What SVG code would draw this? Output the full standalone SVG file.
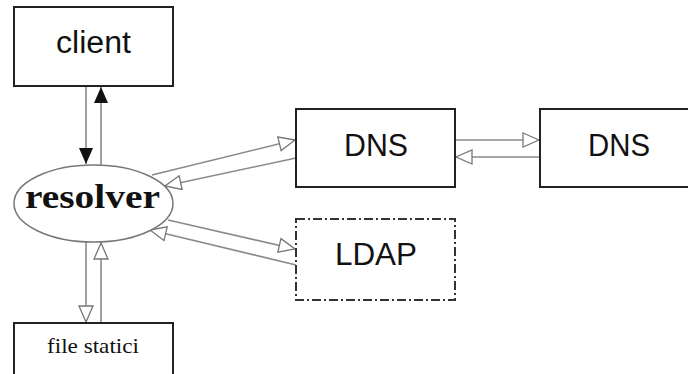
<svg xmlns="http://www.w3.org/2000/svg" width="688" height="374" viewBox="0 0 688 374">
<style>
.box{fill:#fff;stroke:#222;stroke-width:2}
.dash{fill:#fff;stroke:#333;stroke-width:2;stroke-dasharray:9,3,2,3}
.sans{font-family:"Liberation Sans",Arial,sans-serif;font-size:31px;fill:#111;text-anchor:middle}
.serif{font-family:"Liberation Serif","Times New Roman",serif;fill:#111;text-anchor:middle}
.ch{stroke:#8a8a8a;stroke-width:1.6;fill:none;marker-end:url(#hollow)}
.cf{stroke:#8a8a8a;stroke-width:1.6;fill:none;marker-end:url(#solid)}
</style>
<defs>
<marker id="hollow" viewBox="-1 -1 18 16" refX="16" refY="7" markerWidth="18" markerHeight="16" markerUnits="userSpaceOnUse" orient="auto">
<path d="M0,0 L16,7 L0,14 Z" fill="#fff" stroke="#777" stroke-width="1.3"/>
</marker>
<marker id="solid" viewBox="0 0 16 14" refX="16" refY="7" markerWidth="16" markerHeight="14" markerUnits="userSpaceOnUse" orient="auto">
<path d="M0,0 L16,7 L0,14 Z" fill="#111"/>
</marker>
</defs>
<rect width="688" height="374" fill="#fff"/>
<g id="connectors">
<line class="cf" x1="86" y1="87" x2="86" y2="164"/>
<line class="cf" x1="101" y1="165" x2="101" y2="87"/>
<line class="ch" x1="86" y1="242" x2="86" y2="322"/>
<line class="ch" x1="101" y1="322" x2="101" y2="243"/>
<line class="ch" x1="152" y1="175" x2="295" y2="140"/>
<line class="ch" x1="296" y1="158" x2="165" y2="186"/>
<line class="ch" x1="168" y1="220" x2="295" y2="249"/>
<line class="ch" x1="296" y1="265" x2="150" y2="230"/>
<line class="ch" x1="456" y1="140" x2="539" y2="140"/>
<line class="ch" x1="540" y1="157" x2="456" y2="157"/>
</g>
<g id="client">
<rect class="box" x="14" y="7" width="159" height="79"/>
<text class="sans" x="93.5" y="53" font-size="29" textLength="75" lengthAdjust="spacingAndGlyphs">client</text>
</g>
<g id="resolver">
<ellipse cx="93.5" cy="203.5" rx="79.5" ry="38.5" fill="#fff" stroke="#777" stroke-width="1.5"/>
<text class="serif" x="92.5" y="208" font-size="34" font-weight="bold" textLength="135" lengthAdjust="spacingAndGlyphs">resolver</text>
</g>
<g id="file-statici">
<rect class="box" x="14" y="323" width="159" height="60"/>
<text class="serif" x="93" y="353" font-size="21" textLength="92" lengthAdjust="spacingAndGlyphs">file statici</text>
</g>
<g id="dns1">
<rect class="box" x="296" y="109" width="159" height="78"/>
<text class="sans" x="376" y="156" textLength="64" lengthAdjust="spacingAndGlyphs">DNS</text>
</g>
<g id="dns2">
<rect class="box" x="540" y="109" width="160" height="78"/>
<text class="sans" x="619" y="156" textLength="62" lengthAdjust="spacingAndGlyphs">DNS</text>
</g>
<g id="ldap">
<rect class="dash" x="296" y="219" width="159" height="81"/>
<text class="sans" x="376" y="265" textLength="82" lengthAdjust="spacingAndGlyphs">LDAP</text>
</g>
</svg>
